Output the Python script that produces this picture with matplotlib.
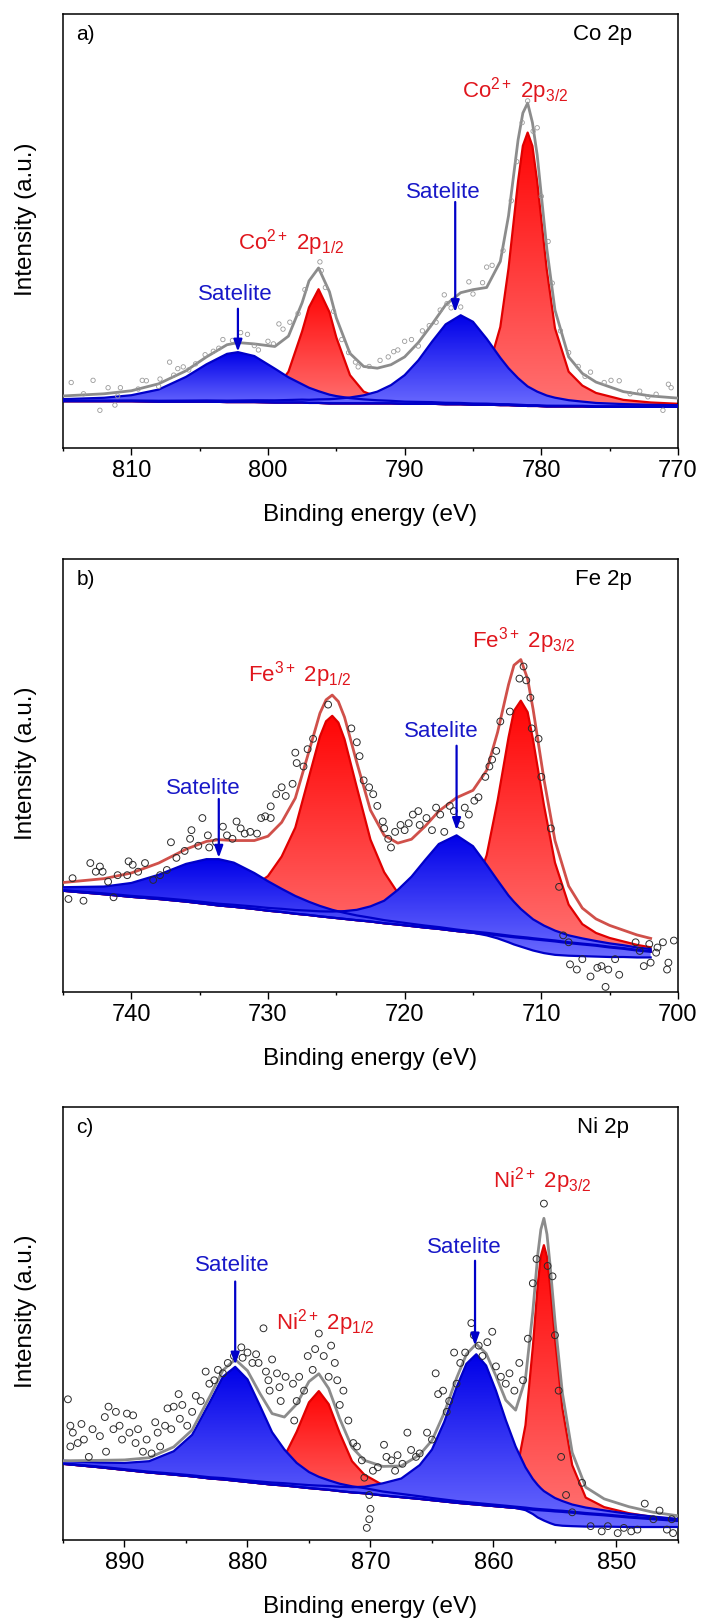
import numpy as np
import matplotlib
matplotlib.use('Agg')
import matplotlib.pyplot as plt
from matplotlib.patches import Polygon
from matplotlib.colors import to_rgb
from matplotlib.ticker import MultipleLocator

plt.rcParams['font.family'] = ['Liberation Sans', 'DejaVu Sans']
plt.rcParams['mathtext.fontset'] = 'custom'
plt.rcParams['mathtext.rm'] = 'Liberation Sans'
plt.rcParams['mathtext.it'] = 'Liberation Sans:italic'
plt.rcParams['mathtext.bf'] = 'Liberation Sans:bold'

# ---------------- a) Co 2p ----------------
a_energy = [815, 812, 810, 808, 806, 804.5, 803, 802.2, 801, 799.5, 798.5, 797.5, 797, 796.3, 795.5, 795, 794, 793, 792, 791,
            790, 789, 788, 787, 785.9, 785, 784, 783, 782.4, 781.7, 781.35, 781, 780.65, 780.3, 779.6, 779, 778, 777, 776,
            774, 772, 770]
a_bg = [10.8, 10.8, 10.8, 10.7, 10.7, 10.7, 10.6, 10.6, 10.6, 10.5, 10.5, 10.5, 10.4, 10.4, 10.3, 10.3, 10.3, 10.3, 10.3, 10.3,
        10.2, 10.2, 10.2, 10.1, 10.1, 10.0, 10.0, 9.9, 9.9, 9.8, 9.75, 9.7, 9.7, 9.7, 9.6, 9.6, 9.6, 9.6, 9.5, 9.5, 9.5, 9.5]
a_sat_high = [0.46, 0.79, 1.37, 2.78, 5.7, 8.6, 11.1, 11.5, 10.6, 7.8, 5.8, 4.2, 3.5, 2.7, 2.0, 1.67, 1.2, 0.92, 0.71, 0.58,
              0.49, 0.43, 0.38, 0.33, 0.29, 0.26, 0.23, 0.21, 0.2, 0.19, 0.185, 0.18, 0.175, 0.17, 0.16, 0.15, 0.14, 0.13,
              0.12, 0.11, 0.1, 0.09]
a_co_2p12 = [0.08, 0.12, 0.16, 0.21, 0.31, 0.42, 0.63, 0.8, 1.23, 2.9, 7.1, 16.4, 22.0, 26.2, 21.0, 15.2, 6.5, 2.7, 1.46, 0.97,
             0.71, 0.53, 0.42, 0.33, 0.27, 0.23, 0.19, 0.16, 0.15, 0.14, 0.135, 0.13, 0.125, 0.12, 0.11, 0.1, 0.09, 0.08,
             0.08, 0.07, 0.06, 0.05]
a_sat_low = [0.11, 0.14, 0.16, 0.19, 0.23, 0.27, 0.32, 0.35, 0.4, 0.49, 0.57, 0.66, 0.72, 0.81, 0.96, 1.06, 1.35, 1.84, 2.7, 4.2,
             6.6, 10.0, 14.3, 18.4, 20.5, 19.1, 15.2, 10.9, 8.5, 6.3, 5.4, 4.5, 3.9, 3.3, 2.5, 2.0, 1.43, 1.1, 0.89, 0.63,
             0.47, 0.37]
a_co_2p32 = [0.05, 0.06, 0.07, 0.08, 0.1, 0.11, 0.13, 0.14, 0.15, 0.18, 0.2, 0.22, 0.24, 0.26, 0.29, 0.31, 0.36, 0.42, 0.5, 0.6,
             0.74, 0.94, 1.21, 1.63, 2.4, 3.5, 6.9, 18.0, 31.5, 51.7, 59.9, 63.0, 59.9, 51.7, 31.5, 18.0, 8.0, 4.8, 3.2, 1.6,
             1.0, 0.7]
a_envelope = [12.0, 12.5, 13.2, 14.8, 17.8, 21.0, 23.8, 24.3, 24.0, 23.4, 25.8, 33.5, 38.5, 41.5, 36.0, 30.0, 21.8, 18.8, 18.4, 19.2,
              21.0, 24.3, 28.5, 33.0, 35.8, 36.5, 37.0, 43.0, 53.5, 71.0, 77.2, 79.5, 75.0, 67.5, 46.0, 31.8, 21.0, 17.2, 15.2,
              13.0, 12.0, 11.5]
a_pts_e = [814.4, 812.8, 812.3, 811.7, 811.2, 810.8, 809.2, 808.9, 807.9, 807.2, 806.6, 806.2, 805.3, 803.3, 802.6, 802.0, 801.5,
           800.7, 800.0, 799.2, 798.9, 798.4, 796.2, 796.1, 793.6, 793.4, 791.8, 791.2, 790.8, 790.5, 790.0, 789.5, 788.7, 788.2,
           787.7, 787.1, 786.9, 786.6, 785.9, 785.3, 784.3, 784.0, 783.6, 780.3, 779.5, 776.4, 775.4, 774.9, 774.3, 772.8, 771.1,
           770.5, 770.7, 813.5, 811.0, 809.5, 808.0, 806.9, 805.8, 804.6, 804.0, 803.6, 801.0, 799.6, 797.8, 797.3, 795.8, 795.2,
           794.6, 794.1, 792.6, 789.0, 787.4, 785.0, 782.8, 782.2, 781.8, 781.4, 781.0, 780.6, 780.0, 779.2, 778.6, 778.0, 777.3,
           776.8, 773.5, 772.2, 771.6]
a_pts_y = [15.1, 15.6, 8.7, 13.9, 9.9, 13.9, 15.6, 15.5, 15.9, 19.8, 18.3, 18.7, 19.4, 25.0, 24.8, 26.6, 26.2, 22.6, 24.6, 28.6,
           27.4, 29.0, 42.9, 40.9, 19.8, 18.7, 20.2, 21.0, 22.2, 22.6, 24.6, 25.0, 27.0, 28.2, 29.0, 35.3, 33.3, 32.3, 32.5, 38.3,
           38.1, 41.7, 42.1, 73.8, 47.6, 17.5, 15.1, 15.6, 15.5, 13.1, 8.7, 13.9, 14.7, 12.5, 12.0, 13.6, 14.2, 16.8, 18.0, 21.5,
           22.3, 23.0, 23.6, 24.0, 31.0, 36.5, 37.0, 31.5, 25.0, 22.0, 18.8, 23.5, 31.8, 35.5, 45.5, 57.0, 66.0, 75.0, 80.0, 73.0,
           58.0, 38.0, 27.0, 22.0, 18.8, 16.5, 12.5, 11.8, 12.4]

# ---------------- b) Fe 2p ----------------
b_energy = [745, 742, 740, 738, 736, 734.5, 733.6, 732.5, 731, 730, 729, 728, 727, 726.2, 725.75, 725.3, 724.85, 724.4, 723.5,
            722.5, 721.5, 720.5, 719.5, 718.5, 717.5, 716.2, 715, 714, 713.2, 712.4, 712.0, 711.5, 711.0, 710.6, 709.8, 709,
            708, 707, 706, 705, 704, 703, 702]
b_bg = [23.4, 22.6, 22.0, 21.5, 20.9, 20.35, 20.0, 19.7, 19.2, 18.8, 18.5, 18.1, 17.8, 17.5, 17.35, 17.2, 17.05, 16.9, 16.6, 16.3,
        15.9, 15.6, 15.25, 14.9, 14.6, 14.1, 13.7, 13.4, 13.1, 12.8, 12.65, 12.5, 12.35, 12.2, 11.95, 11.7, 11.3, 11.0, 10.7,
        10.3, 10.0, 9.6, 9.3]
b_bg_low = [23.4, 22.6, 22.0, 21.5, 20.9, 20.35, 20.0, 19.7, 19.2, 18.8, 18.5, 18.1, 17.8, 17.5, 17.35, 17.2, 17.05, 16.9, 16.6,
            16.3, 15.9, 15.6, 15.25, 14.9, 14.6, 14.1, 13.7, 13.1, 12.4, 11.5, 11.0, 10.5, 10.0, 9.6, 9.0, 8.6, 8.4, 8.3, 8.2,
            8.1, 8.1, 8.0, 8.0]
b_sat_high = [0.82, 1.77, 3.2, 5.6, 8.7, 10.35, 10.7, 10.2, 8.3, 6.8, 5.35, 4.1, 3.05, 2.4, 2.1, 1.8, 1.6, 1.4, 1.1, 0.88,
              0.72, 0.6, 0.52, 0.46, 0.41, 0.35, 0.31, 0.29, 0.27, 0.26, 0.255, 0.25, 0.245, 0.24, 0.23, 0.22, 0.21, 0.2,
              0.19, 0.18, 0.17, 0.16, 0.16]
b_fe_2p12 = [0.5, 0.7, 0.9, 1.2, 1.6, 2.1, 2.5, 3.0, 5.3, 8.0, 12.8, 19.9, 31.9, 41.5, 45.2, 46.6, 45.2, 41.5, 30.7, 18.9,
             11.8, 7.3, 4.9, 3.6, 2.8, 2.1, 1.7, 1.4, 1.25, 1.1, 1.05, 1.0, 0.95, 0.9, 0.8, 0.75, 0.7, 0.62, 0.56, 0.5,
             0.46, 0.42, 0.4]
b_sat_low = [0.15, 0.19, 0.22, 0.27, 0.32, 0.37, 0.4, 0.46, 0.56, 0.64, 0.73, 0.86, 1.0, 1.15, 1.27, 1.4, 1.6, 1.8, 2.4, 3.5,
             5.2, 8.0, 11.4, 15.6, 19.6, 22.1, 20.0, 16.0, 12.7, 9.5, 8.2, 6.7, 5.5, 4.6, 3.4, 2.5, 1.8, 1.4, 1.1, 0.95,
             0.82, 0.71, 0.62]
b_fe_2p32 = [0.09, 0.1, 0.12, 0.14, 0.16, 0.19, 0.2, 0.22, 0.26, 0.29, 0.32, 0.36, 0.4, 0.45, 0.48, 0.51, 0.54, 0.58, 0.67, 0.79,
             0.95, 1.18, 1.48, 1.9, 2.5, 4.3, 8.9, 18.2, 31.1, 46.0, 52.3, 54.8, 52.3, 46.0, 31.1, 18.2, 8.9, 4.7, 2.96, 2.2,
             1.7, 1.3, 1.04]
b_envelope = [25.3, 26.2, 27.5, 29.8, 33.0, 34.8, 35.2, 35.0, 35.0, 36.0, 39.2, 44.8, 55.6, 64.4, 67.5, 68.6, 67.1, 63.5, 53.0,
              42.0, 36.2, 34.4, 35.3, 38.3, 41.8, 44.9, 46.6, 51.2, 60.0, 71.0, 75.5, 76.8, 72.3, 65.3, 49.0, 35.0, 24.5, 19.4,
              16.9, 15.4, 14.3, 13.2, 12.4]
b_pts_e = [744.6, 744.3, 743.5, 743.0, 742.6, 742.3, 742.1, 741.7, 741.3, 741.0, 740.3, 740.2, 739.9, 739.5, 739.0, 738.4, 737.9,
           737.4, 737.1, 736.7, 736.1, 735.7, 735.6, 735.1, 734.8, 734.4, 734.3, 733.8, 733.3, 733.0, 732.6, 732.3, 732.0, 731.7,
           731.3, 730.8, 730.5, 730.2, 729.8, 729.8, 729.4, 729.0, 728.7, 728.2, 728.0, 727.9, 727.4, 727.1, 726.7, 725.6, 723.9,
           723.5, 723.3, 723.0, 722.6, 722.3, 722.0, 721.6, 721.5, 721.2, 721.0, 720.7, 720.3, 720.0, 719.7, 719.4, 719.0, 718.9,
           718.4, 718.0, 717.7, 717.4, 717.1, 716.7, 716.4, 715.9, 715.6, 715.3, 714.9, 714.6, 714.1, 713.8, 713.6, 713.3, 713.0,
           712.3, 711.6, 711.3, 711.1, 710.8, 710.7, 710.2, 710.0, 709.3, 708.7, 708.4, 708.0, 707.9, 707.4, 707.0, 706.4, 705.9,
           705.6, 705.3, 705.1, 704.6, 704.3, 703.1, 702.8, 702.5, 702.0, 701.5, 701.1, 700.8, 700.7, 700.3, 702.1, 701.6]
b_pts_y = [21.5, 26.3, 21.1, 29.8, 27.8, 29.0, 27.8, 25.5, 21.9, 27.0, 27.0, 30.2, 29.4, 27.8, 29.8, 25.9, 27.0, 28.2, 34.6, 31.0,
           32.6, 35.4, 37.4, 33.8, 40.2, 36.2, 33.4, 34.6, 38.2, 36.2, 35.4, 39.4, 37.8, 36.6, 37.0, 36.6, 40.2, 40.6, 40.2, 42.9,
           45.7, 47.3, 45.3, 48.1, 55.3, 52.9, 52.1, 56.1, 58.5, 66.4, 60.9, 57.7, 54.5, 48.9, 47.3, 45.7, 43.0, 39.4, 37.8, 35.4,
           33.4, 37.0, 38.6, 37.4, 39.0, 41.0, 41.8, 38.6, 40.2, 37.4, 42.6, 41.0, 37.0, 43.0, 41.8, 38.6, 42.6, 41.0, 44.2, 45.0,
           49.7, 52.1, 53.7, 55.7, 62.5, 64.8, 72.4, 75.2, 72.0, 68.0, 60.9, 58.5, 49.7, 37.8, 24.3, 13.1, 11.5, 6.4, 5.2, 7.6,
           3.6, 5.6, 6.0, 1.2, 5.2, 7.6, 4.0, 11.5, 9.5, 6.0, 6.8, 10.3, 11.5, 5.2, 6.8, 11.9, 11.1, 9.1]

# ---------------- c) Ni 2p ----------------
c_energy = [895, 892, 890, 888, 886, 884.5, 883, 882, 881, 880, 879, 878, 877, 876, 875, 874.2, 873.4, 872.5, 871.5, 870.5,
            869, 867.5, 866, 865, 864, 863, 862.2, 861.4, 860.6, 859.8, 859, 858.2, 857.4, 856.8, 856.4, 856.15, 855.9,
            855.65, 855.4, 855.0, 854.4, 853.6, 852.5, 851, 849, 847, 845]
c_bg = [17.6, 16.8, 16.2, 15.6, 15.1, 14.7, 14.2, 14.0, 13.7, 13.4, 13.1, 12.8, 12.6, 12.3, 12.0, 11.8, 11.6, 11.3, 11.0, 10.8,
        10.3, 9.9, 9.5, 9.2, 8.9, 8.6, 8.4, 8.2, 8.0, 7.8, 7.6, 7.4, 7.2, 7.0, 6.9, 6.85, 6.8, 6.75, 6.7, 6.6, 6.5, 6.3, 6.0,
        5.7, 5.2, 4.8, 4.4]
c_bg_low = [17.6, 16.8, 16.2, 15.6, 15.1, 14.7, 14.2, 14.0, 13.7, 13.4, 13.1, 12.8, 12.6, 12.3, 12.0, 11.8, 11.6, 11.3, 11.0, 10.8,
            10.3, 9.9, 9.5, 9.2, 8.9, 8.6, 8.4, 8.2, 8.0, 7.8, 7.6, 7.4, 6.9, 6.0, 5.2, 4.85, 4.5, 4.2, 3.9, 3.5, 3.3, 3.2,
            3.1, 3.1, 3.0, 3.0, 3.0]
c_sat_high = [0.7, 1.1, 1.6, 2.6, 5.4, 9.6, 18.0, 23.7, 26.3, 23.7, 18.0, 12.1, 8.3, 5.5, 3.7, 2.8, 2.2, 1.7, 1.4, 1.2,
              0.9, 0.75, 0.6, 0.5, 0.45, 0.4, 0.38, 0.36, 0.34, 0.33, 0.32, 0.3, 0.29, 0.28, 0.28, 0.275, 0.27, 0.27, 0.27,
              0.26, 0.26, 0.25, 0.24, 0.22, 0.21, 0.2, 0.19]
c_ni_2p12 = [0.11, 0.14, 0.18, 0.24, 0.32, 0.41, 0.56, 0.7, 0.9, 1.22, 1.88, 3.4, 6.7, 12.7, 19.8, 22.6, 19.8, 13.4, 7.2, 4.3,
             2.4, 1.5, 1.0, 0.8, 0.65, 0.55, 0.5, 0.45, 0.42, 0.4, 0.38, 0.36, 0.34, 0.32, 0.31, 0.305, 0.3, 0.295, 0.29,
             0.28, 0.27, 0.26, 0.25, 0.23, 0.22, 0.21, 0.2]
c_sat_low = [0.12, 0.14, 0.16, 0.18, 0.22, 0.24, 0.28, 0.31, 0.34, 0.37, 0.42, 0.47, 0.52, 0.59, 0.68, 0.77, 0.87, 1.0, 1.2, 1.5,
             2.8, 4.3, 7.8, 11.7, 18.4, 26.7, 32.3, 34.7, 32.3, 26.7, 20.1, 14.2, 9.6, 7.1, 5.8, 5.1, 4.5, 4.1, 3.7, 3.1, 2.5,
             1.9, 1.5, 1.15, 0.83, 0.61, 0.48]
c_ni_2p32 = [0.02, 0.03, 0.03, 0.03, 0.04, 0.04, 0.04, 0.05, 0.05, 0.05, 0.06, 0.06, 0.07, 0.08, 0.08, 0.09, 0.1, 0.11, 0.13, 0.15,
             0.2, 0.28, 0.36, 0.44, 0.55, 0.72, 0.9, 1.17, 1.6, 2.3, 3.5, 7.2, 19.3, 37.6, 52.1, 58.7, 61.3, 58.7, 52.1, 40.0,
             24.0, 11.0, 3.8, 1.9, 1.0, 0.5, 0.35]
c_envelope = [18.3, 18.4, 18.5, 19.0, 21.5, 25.4, 33.5, 39.2, 41.7, 39.1, 33.9, 29.2, 28.4, 31.4, 36.6, 38.4, 35.0, 28.0, 21.4, 18.4,
              17.0, 17.1, 19.7, 23.0, 29.4, 37.4, 42.9, 45.3, 43.1, 37.9, 32.3, 30.0, 37.2, 52.8, 65.9, 71.7, 74.3, 70.6, 63.6,
              50.6, 34.0, 20.2, 12.2, 9.5, 7.7, 6.4, 5.6]
c_pts_e = [894.6, 894.4, 894.2, 894.4, 893.8, 893.5, 893.3, 892.9, 892.6, 892.0, 891.6, 891.5, 891.3, 890.9, 890.7, 890.4, 890.2,
           889.8, 889.6, 889.3, 889.1, 888.9, 888.5, 888.2, 887.8, 887.5, 887.3, 887.1, 886.7, 886.5, 886.2, 886.0, 885.6, 885.5,
           885.3, 884.9, 884.5, 884.2, 883.8, 883.4, 883.1, 882.7, 882.4, 882.0, 881.6, 881.1, 880.5, 880.4, 880.0, 879.6, 879.3,
           879.1, 878.7, 878.5, 878.3, 878.2, 878.0, 877.6, 877.4, 877.3, 876.9, 876.3, 876.2, 876.0, 875.8, 875.4, 875.1, 874.7,
           874.5, 874.2, 873.8, 873.4, 873.2, 872.9, 872.7, 872.5, 872.2, 871.8, 871.4, 871.1, 870.7, 870.5, 870.1, 870.0, 870.1,
           870.3, 869.8, 869.4, 868.9, 868.7, 868.3, 868.0, 867.8, 867.4, 867.0, 866.7, 866.3, 866.0, 865.4, 865.0, 864.7, 864.5,
           864.1, 863.8, 863.6, 863.2, 863.0, 862.7, 862.3, 861.8, 861.6, 861.2, 860.9, 860.5, 860.1, 859.8, 859.4, 859.0, 858.7,
           858.3, 857.9, 857.6, 857.2, 856.8, 856.5, 855.9, 855.6, 855.2, 855.0, 854.7, 854.5, 854.1, 853.6, 852.8, 852.1, 851.2,
           850.7, 849.9, 849.4, 848.8, 848.3, 847.7, 847.0, 846.5, 845.9, 845.5, 845.4]
c_pts_y = [32.5, 26.4, 24.8, 21.6, 22.4, 26.8, 23.2, 19.2, 25.6, 24.0, 28.4, 20.4, 30.8, 25.6, 29.6, 26.4, 23.2, 29.2, 24.8, 28.8,
           22.4, 25.6, 20.4, 23.2, 20.0, 27.2, 24.8, 21.6, 26.4, 30.4, 25.6, 30.8, 33.7, 28.0, 31.2, 26.4, 29.6, 33.3, 32.1, 38.9,
           36.1, 36.9, 39.3, 38.5, 40.9, 42.5, 44.5, 42.1, 43.3, 40.9, 42.9, 40.9, 48.9, 38.9, 36.9, 34.5, 41.7, 38.5, 35.3, 32.1,
           37.7, 36.1, 27.6, 32.1, 37.7, 34.5, 42.5, 39.3, 44.1, 47.7, 42.5, 37.7, 44.9, 40.9, 36.9, 31.2, 34.5, 27.6, 22.4, 21.6,
           18.4, 14.4, 10.4, 7.2, 4.8, 2.8, 16.0, 16.8, 22.0, 19.2, 18.4, 16.0, 19.6, 17.6, 24.8, 20.8, 19.2, 20.0, 24.8, 23.2,
           38.5, 33.7, 34.5, 29.6, 32.1, 43.3, 36.1, 40.9, 43.3, 50.1, 47.3, 44.9, 42.5, 45.7, 48.1, 40.1, 37.7, 36.1, 38.5, 34.5,
           40.9, 36.9, 46.5, 59.3, 64.9, 77.7, 63.3, 60.9, 47.3, 34.5, 19.2, 10.4, 6.4, 13.2, 3.2, 2.0, 3.2, 1.6, 2.8, 2.0,
           2.4, 8.4, 4.8, 6.8, 2.4, 4.8, 1.6]

RED_TOP, RED_BOT, RED_LINE = '#ff0505', '#ff7272', '#e00000'
BLUE_TOP, BLUE_BOT, BLUE_LINE = '#0000e8', '#6b6bff', '#0000c8'
TXT_RED, TXT_BLUE = '#e0161d', '#1818c8'


def gradient_fill(ax, x, low, high, top, bottom, line, z):
    verts = np.column_stack([np.r_[x, x[::-1]], np.r_[high, low[::-1]]])
    patch = Polygon(verts, closed=True, facecolor='none', edgecolor='none')
    ax.add_patch(patch)
    t = np.linspace(0, 1, 200)[:, None]
    img = np.array(to_rgb(bottom)) * (1 - t) + np.array(to_rgb(top)) * t
    im = ax.imshow(img[:, None, :], extent=[x.min(), x.max(), low.min(), high.max()],
                   origin='lower', aspect='auto', zorder=z, interpolation='bilinear')
    im.set_clip_path(patch)
    ax.plot(x, high, color=line, lw=1.6, zorder=z + 0.1)
    ax.plot(x, low, color=line, lw=1.6, zorder=z + 0.1)


def draw_panel(ax, e, bg, bg_low, reds, blues, env, env_color, pts_e, pts_y, pt_style,
               xlim, tag, element, labels, arrows):
    e = np.array(e)
    bg = np.array(bg)
    bg_low = np.array(bg_low)
    for comp in reds:
        gradient_fill(ax, e, bg, bg + np.array(comp), RED_TOP, RED_BOT, RED_LINE, 2)
    for i, comp in enumerate(blues):
        low = bg_low if i == len(blues) - 1 else bg
        gradient_fill(ax, e, low, bg + np.array(comp), BLUE_TOP, BLUE_BOT, BLUE_LINE, 3)
    ax.plot(e, env, color=env_color, lw=2.0, zorder=4)
    ax.scatter(pts_e, pts_y, zorder=5, facecolors='none', **pt_style)

    for txt, x, y, col in labels:
        ax.text(x, y, txt, color=col, fontsize=16, ha='center', va='center', zorder=6)
    for x, y0, y1 in arrows:
        ax.annotate('', xy=(x, y1), xytext=(x, y0), zorder=6,
                    arrowprops=dict(arrowstyle='-|>,head_length=0.7,head_width=0.25',
                                    color=BLUE_LINE, lw=1.6, shrinkA=0, shrinkB=0))
    ax.text(0.022, 0.955, tag, transform=ax.transAxes, fontsize=15, va='center', ha='left')
    ax.text(0.878, 0.955, element, transform=ax.transAxes, fontsize=16, va='center', ha='center')

    ax.set_xlim(*xlim)
    ax.set_ylim(0, 100)
    ax.xaxis.set_major_locator(MultipleLocator(10))
    ax.xaxis.set_minor_locator(MultipleLocator(5))
    ax.tick_params(axis='x', which='major', direction='out', length=5, width=1.0, labelsize=17, pad=3)
    ax.tick_params(axis='x', which='minor', direction='out', length=2.5, width=1.0)
    ax.tick_params(axis='y', which='both', left=False, labelleft=False)
    for s in ax.spines.values():
        s.set_linewidth(1.1)
    ax.set_xlabel('Binding energy (eV)', fontsize=17.5)
    ax.xaxis.set_label_coords(0.5, -0.127)
    ax.set_ylabel('Intensity (a.u.)', fontsize=17.5)
    ax.yaxis.set_label_coords(-0.042, 0.53)


fig = plt.figure(figsize=(7.03, 16.24), dpi=100)
ax_a = fig.add_axes([0.0896, 0.7235, 0.8748, 0.2672])
ax_b = fig.add_axes([0.0896, 0.3885, 0.8748, 0.2666])
ax_c = fig.add_axes([0.0896, 0.0511, 0.8748, 0.2666])

light_pts = dict(s=10, edgecolors='#9a9a9a', linewidths=0.6)
dark_pts = dict(s=24, edgecolors='#2a2a2a', linewidths=0.7)

draw_panel(ax_a, a_energy, a_bg, a_bg, [a_co_2p12, a_co_2p32], [a_sat_high, a_sat_low],
           a_envelope, '#8c8c8c', a_pts_e, a_pts_y, light_pts, (815, 770), 'a)', 'Co 2p',
           [('Satelite', 802.4, 35.7, TXT_BLUE),
            ('Co$^{2+}$ 2p$_{1/2}$', 798.3, 47.6, TXT_RED),
            ('Satelite', 787.2, 59.1, TXT_BLUE),
            ('Co$^{2+}$ 2p$_{3/2}$', 781.9, 82.5, TXT_RED)],
           [(802.2, 32.1, 22.2), (786.3, 56.7, 31.3)])

draw_panel(ax_b, b_energy, b_bg, b_bg_low, [b_fe_2p12, b_fe_2p32], [b_sat_high, b_sat_low],
           b_envelope, '#d0504a', b_pts_e, b_pts_y, dark_pts, (745, 700), 'b)', 'Fe 2p',
           [('Satelite', 734.7, 47.3, TXT_BLUE),
            ('Fe$^{3+}$ 2p$_{1/2}$', 727.7, 73.6, TXT_RED),
            ('Satelite', 717.3, 60.5, TXT_BLUE),
            ('Fe$^{3+}$ 2p$_{3/2}$', 711.3, 81.5, TXT_RED)],
           [(733.6, 44.6, 31.0), (716.2, 56.9, 37.4)])

draw_panel(ax_c, c_energy, c_bg, c_bg_low, [c_ni_2p12, c_ni_2p32], [c_sat_high, c_sat_low],
           c_envelope, '#8c8c8c', c_pts_e, c_pts_y, dark_pts, (895, 845), 'c)', 'Ni 2p',
           [('Satelite', 881.2, 63.7, TXT_BLUE),
            ('Ni$^{2+}$ 2p$_{1/2}$', 873.7, 50.5, TXT_RED),
            ('Satelite', 862.4, 67.7, TXT_BLUE),
            ('Ni$^{2+}$ 2p$_{3/2}$', 856.0, 83.3, TXT_RED)],
           [(881.0, 59.7, 40.5), (861.5, 64.5, 44.9)])

fig.savefig('out.png', dpi=100)
